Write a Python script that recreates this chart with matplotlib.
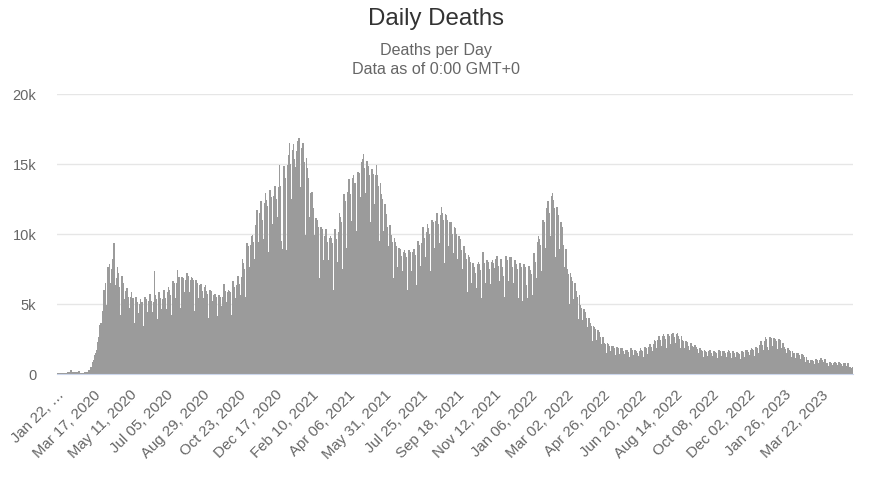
import numpy as np
import pandas as pd
import matplotlib
matplotlib.use("Agg")
import matplotlib.pyplot as plt
from matplotlib.ticker import FuncFormatter

# daily deaths, one row per week (Wed .. Tue), starting Wed Jan 22, 2020
weekly_rows = [
  [17, 1, 8, 16, 14, 26, 49],
  [2, 38, 42, 46, 45, 57, 64],
  [66, 72, 86, 89, 97, 108, 97],
  [254, 121, 143, 142, 106, 98, 136],
  [120, 115, 118, 109, 97, 150, 71],
  [64, 52, 29, 44, 59, 70, 44],
  [80, 90, 100, 105, 110, 230, 210],
  [270, 330, 450, 350, 430, 820, 980],
  [1000, 1300, 1500, 1700, 1700, 1800, 2300],
  [2600, 2700, 3500, 3600, 3300, 3400, 4500],
  [5000, 6000, 6000, 6500, 4900, 4700, 6500],
  [7600, 7400, 7800, 6500, 5400, 5000, 7500],
  [8200, 8000, 9300, 6300, 5300, 4600, 6800],
  [7600, 7200, 6200, 5900, 4200, 3800, 6400],
  [7000, 6500, 5600, 5300, 3800, 3600, 5900],
  [6100, 5800, 5500, 4700, 3500, 3300, 5500],
  [5800, 5300, 5400, 4400, 3500, 3600, 5000],
  [5500, 5200, 5100, 4300, 3200, 3400, 5000],
  [5300, 5000, 5100, 4600, 3300, 3400, 4800],
  [5500, 5300, 5100, 4400, 3500, 3800, 5200],
  [5700, 5300, 5200, 4400, 3600, 3800, 5100],
  [7300, 5600, 5300, 4700, 3700, 3900, 5400],
  [5800, 5400, 5200, 4600, 3600, 3900, 5300],
  [6000, 5600, 5400, 4600, 3900, 4300, 5800],
  [6200, 6000, 5600, 5100, 4000, 4200, 6000],
  [6600, 6500, 6200, 5400, 4100, 4300, 6500],
  [7400, 6800, 6900, 5500, 4200, 4700, 6900],
  [6900, 6800, 6500, 5800, 4400, 4600, 6700],
  [7200, 6800, 7000, 5800, 4500, 4800, 6700],
  [6900, 6800, 6700, 5700, 4400, 4500, 6600],
  [6700, 6500, 6100, 5400, 4300, 4300, 6300],
  [6400, 6200, 5900, 5400, 4100, 4200, 6200],
  [6300, 5900, 5700, 5100, 4000, 3800, 5700],
  [6000, 5900, 5500, 5200, 3900, 4000, 5600],
  [5700, 5600, 5500, 5000, 3900, 4100, 5600],
  [5600, 5500, 5400, 4800, 3800, 4000, 5500],
  [6400, 6000, 5900, 5100, 4000, 4100, 5800],
  [6000, 5900, 5800, 5100, 3700, 4200, 5900],
  [6600, 6200, 6100, 5400, 3900, 4300, 6300],
  [7000, 6800, 6400, 5600, 4200, 4700, 6900],
  [8200, 7900, 7500, 6400, 5000, 5500, 8000],
  [9300, 9100, 8800, 7600, 5800, 6300, 9200],
  [9800, 9900, 9400, 8200, 6400, 7000, 10600],
  [11000, 11700, 10900, 9400, 6900, 8100, 11500],
  [12300, 11200, 11000, 9600, 7100, 8300, 12200],
  [12900, 12400, 12000, 10500, 7900, 8700, 12600],
  [13100, 12600, 12200, 10700, 7700, 8400, 12700],
  [13400, 13200, 12500, 11200, 7600, 8800, 13300],
  [14900, 13400, 9500, 7900, 7300, 8900, 14600],
  [14800, 14000, 8600, 8800, 8300, 10000, 14900],
  [15600, 16500, 15000, 12500, 8700, 10200, 16000],
  [16400, 15300, 14800, 13200, 9200, 9800, 15900],
  [16600, 16000, 16800, 13300, 9000, 10300, 16100],
  [16200, 16500, 15100, 12200, 8100, 9900, 15400],
  [14700, 14000, 13100, 11200, 7300, 8500, 12900],
  [13000, 12500, 11800, 9900, 6700, 7300, 11100],
  [11100, 11000, 10500, 9000, 6200, 6800, 10400],
  [10500, 10300, 9600, 8100, 5800, 6300, 9800],
  [10300, 9900, 9400, 8100, 5500, 6000, 9700],
  [9800, 9700, 9300, 8100, 5500, 6000, 9600],
  [10300, 9700, 9600, 8000, 5700, 6300, 10100],
  [11500, 11200, 10800, 9200, 6500, 7500, 11600],
  [12800, 12300, 11400, 9000, 6800, 7900, 13000],
  [13900, 13200, 12800, 10900, 8300, 9500, 14000],
  [14200, 13400, 13600, 11500, 8800, 10200, 14400],
  [14400, 14300, 14200, 12600, 9400, 10700, 15100],
  [15300, 15700, 14700, 12900, 9700, 11000, 15200],
  [15100, 14800, 14200, 12400, 9500, 10800, 14600],
  [14600, 14300, 13800, 12100, 9200, 10400, 14200],
  [14900, 14200, 13400, 11700, 8700, 9500, 13600],
  [12800, 12500, 11800, 10200, 7500, 8300, 12100],
  [11400, 11000, 10500, 9100, 6900, 7400, 10600],
  [10100, 9900, 9400, 8300, 6200, 6800, 9700],
  [9400, 9100, 8700, 7600, 5800, 6300, 9000],
  [8900, 8700, 8400, 7300, 5600, 6100, 8700],
  [8800, 8600, 8300, 7200, 5500, 6000, 8600],
  [8800, 8700, 8400, 7300, 5600, 6100, 8700],
  [8900, 8600, 8500, 7300, 5700, 6300, 8800],
  [9500, 9200, 8900, 7700, 6000, 6700, 9300],
  [10500, 10000, 9700, 8300, 6400, 7000, 10100],
  [10700, 10400, 10000, 8700, 6700, 7300, 10500],
  [11000, 10800, 10300, 9000, 6900, 7600, 10900],
  [11500, 11200, 10700, 9300, 7100, 7900, 11300],
  [11900, 11500, 11000, 9500, 7200, 7900, 11400],
  [11300, 11000, 10500, 9100, 6900, 7600, 10800],
  [10800, 10500, 10000, 8600, 6500, 7200, 10500],
  [10400, 10000, 9500, 8200, 6100, 6800, 9800],
  [9600, 9300, 8800, 7500, 5600, 6300, 9100],
  [9000, 8600, 8200, 7000, 5200, 5800, 8500],
  [8300, 8000, 7600, 6500, 4900, 5500, 7900],
  [7600, 7500, 7200, 6100, 4700, 5200, 7800],
  [8000, 7800, 7400, 6300, 4800, 5400, 7900],
  [8700, 7900, 7600, 6500, 4900, 5500, 8100],
  [8000, 7900, 7500, 6400, 4900, 5500, 8000],
  [8100, 7900, 7600, 6500, 5000, 5600, 8200],
  [8400, 8100, 7700, 6600, 5000, 5700, 8200],
  [8200, 7600, 7000, 6400, 4900, 5500, 8100],
  [8400, 8100, 7700, 6600, 5000, 5700, 8300],
  [8300, 8000, 7600, 6500, 4900, 5600, 8100],
  [8100, 7800, 7500, 6300, 4800, 5400, 7900],
  [7900, 7600, 6400, 5200, 4500, 5200, 7800],
  [7600, 7400, 6300, 5000, 4600, 5400, 7700],
  [7600, 7400, 7100, 6000, 4700, 5600, 8300],
  [8600, 8400, 8000, 6800, 5300, 6500, 9400],
  [9800, 9600, 9200, 7800, 6100, 7300, 10700],
  [11000, 10800, 10500, 9000, 6900, 8200, 11800],
  [12300, 12000, 11500, 9800, 7400, 8600, 12700],
  [12900, 12400, 11800, 9900, 7200, 8300, 11900],
  [11900, 11300, 10600, 8900, 6400, 7300, 10800],
  [10500, 9700, 9200, 7600, 5500, 6200, 8900],
  [7900, 7500, 7100, 6000, 4400, 5000, 7200],
  [6900, 6600, 6300, 5300, 3900, 4500, 6500],
  [6200, 5900, 5500, 4600, 3400, 3900, 5600],
  [4900, 4700, 4500, 3800, 2900, 3200, 4600],
  [4400, 4200, 4000, 3300, 2500, 2800, 4000],
  [3700, 3600, 3400, 2800, 2100, 2300, 3400],
  [3300, 3200, 2900, 2400, 1800, 2000, 3100],
  [3000, 2800, 2600, 2100, 1600, 1800, 2600],
  [2300, 2200, 2100, 1700, 1300, 1500, 2200],
  [2100, 2000, 1900, 1600, 1200, 1400, 2000],
  [2000, 1900, 1800, 1500, 1200, 1300, 1900],
  [1900, 1800, 1700, 1400, 1100, 1300, 1800],
  [1800, 1700, 1600, 1400, 1100, 1200, 1700],
  [1700, 1650, 1550, 1300, 1000, 1150, 1650],
  [1800, 1700, 1600, 1300, 1050, 1200, 1700],
  [1600, 1550, 1500, 1250, 1000, 1100, 1600],
  [1800, 1700, 1600, 1350, 1050, 1200, 1750],
  [1900, 1800, 1700, 1400, 1100, 1300, 1900],
  [2100, 2000, 1900, 1600, 1250, 1400, 2100],
  [2400, 2300, 2200, 1800, 1400, 1600, 2400],
  [2700, 2550, 2400, 2000, 1550, 1800, 2650],
  [2800, 2700, 2500, 2100, 1650, 1850, 2750],
  [2850, 2700, 2550, 2100, 1650, 1900, 2800],
  [2900, 2750, 2600, 2150, 1700, 1900, 2850],
  [2900, 2700, 2500, 2100, 1650, 1850, 2700],
  [2400, 2300, 2200, 1850, 1450, 1650, 2350],
  [2250, 2150, 2000, 1700, 1350, 1500, 2200],
  [2100, 2000, 1900, 1550, 1250, 1400, 2050],
  [1900, 1850, 1750, 1450, 1150, 1300, 1850],
  [1750, 1700, 1600, 1350, 1050, 1200, 1700],
  [1600, 1550, 1500, 1250, 1000, 1100, 1600],
  [1650, 1600, 1500, 1250, 950, 1100, 1600],
  [1600, 1550, 1450, 1200, 950, 1100, 1650],
  [1700, 1600, 1500, 1250, 1000, 1150, 1600],
  [1600, 1500, 1450, 1200, 950, 1050, 1550],
  [1650, 1600, 1500, 1250, 1000, 1100, 1600],
  [1600, 1550, 1450, 1200, 950, 1050, 1550],
  [1550, 1500, 1400, 1150, 900, 1050, 1600],
  [1600, 1550, 1450, 1200, 950, 1100, 1650],
  [1700, 1650, 1550, 1300, 1000, 1150, 1700],
  [1800, 1750, 1650, 1350, 1050, 1250, 1850],
  [1900, 1850, 1750, 1450, 1150, 1350, 2050],
  [2300, 2200, 2050, 1700, 1300, 1500, 2350],
  [2600, 2500, 1900, 1500, 1300, 1700, 2600],
  [2600, 2550, 2400, 2000, 1550, 1800, 2550],
  [2500, 2450, 2300, 1900, 1500, 1750, 2500],
  [2500, 2400, 2200, 1800, 1400, 1600, 2200],
  [1900, 1850, 1750, 1450, 1100, 1300, 1850],
  [1800, 1700, 1600, 1300, 1000, 1150, 1600],
  [1500, 1450, 1350, 1100, 850, 1000, 1450],
  [1450, 1400, 1300, 1050, 800, 950, 1400],
  [1400, 1300, 1200, 950, 750, 850, 1200],
  [1000, 980, 920, 750, 580, 660, 960],
  [1000, 960, 900, 740, 570, 650, 950],
  [1050, 1000, 940, 770, 600, 680, 1000],
  [1100, 1050, 980, 800, 610, 700, 1020],
  [800, 780, 730, 600, 470, 530, 780],
  [800, 770, 720, 590, 460, 520, 770],
  [800, 770, 730, 600, 460, 530, 790],
  [800, 760, 710, 580, 450, 510, 760],
  [750, 720, 680, 560, 430, 490, 720],
  [500, 480, 450, 380, 300, 340, 480],
]

deaths = [v for row in weekly_rows for v in row]
dates = pd.date_range("2020-01-22", periods=len(deaths), freq="D")
tick_step = 55
y_ticks = [0, 5000, 10000, 15000, 20000]

plt.rcParams['font.family'] = ['Liberation Sans', 'DejaVu Sans']

fig = plt.figure(figsize=(8.73, 4.79), dpi=100)
ax = fig.add_axes([57/873, 1-374/479, 796/873, 280/479])

x = np.arange(len(deaths))
ax.bar(x, deaths, width=1.0, color='#9b9b9b', linewidth=0, snap=False, antialiased=False)

ax.set_xlim(-0.5, len(deaths) - 0.5)
ax.set_ylim(0, 20000)
ax.set_yticks(y_ticks)
ax.yaxis.set_major_formatter(FuncFormatter(lambda v, p: '0' if v == 0 else f'{int(v/1000)}k'))
ax.grid(axis='y', color='#e6e6e6', linewidth=1)
ax.set_axisbelow(True)

tick_pos = list(range(0, len(deaths), tick_step))
tick_labels = [dates[i].strftime('%b %d, %Y') for i in tick_pos]
tick_labels[0] = 'Jan 22, …'
ax.set_xticks(tick_pos)
ax.set_xticklabels(tick_labels, rotation=45, ha='right', rotation_mode='anchor')

ax.tick_params(axis='x', length=0, pad=10, labelsize=10.8, labelcolor='#666666')
ax.tick_params(axis='y', length=0, pad=15, labelsize=10.5, labelcolor='#666666')
for s in ['top', 'right', 'left']:
  ax.spines[s].set_visible(False)
ax.spines['bottom'].set_color('#ccd6eb')

fig.text(0.5, 1-19/479, 'Daily Deaths', ha='center', va='center', fontsize=17.3, color='#333333')
fig.text(0.5, 1-50/479, 'Deaths per Day', ha='center', va='center', fontsize=11.6, color='#666666')
fig.text(0.5, 1-70/479, 'Data as of 0:00 GMT+0', ha='center', va='center', fontsize=11.6, color='#666666')

fig.savefig('out.png', dpi=100)
